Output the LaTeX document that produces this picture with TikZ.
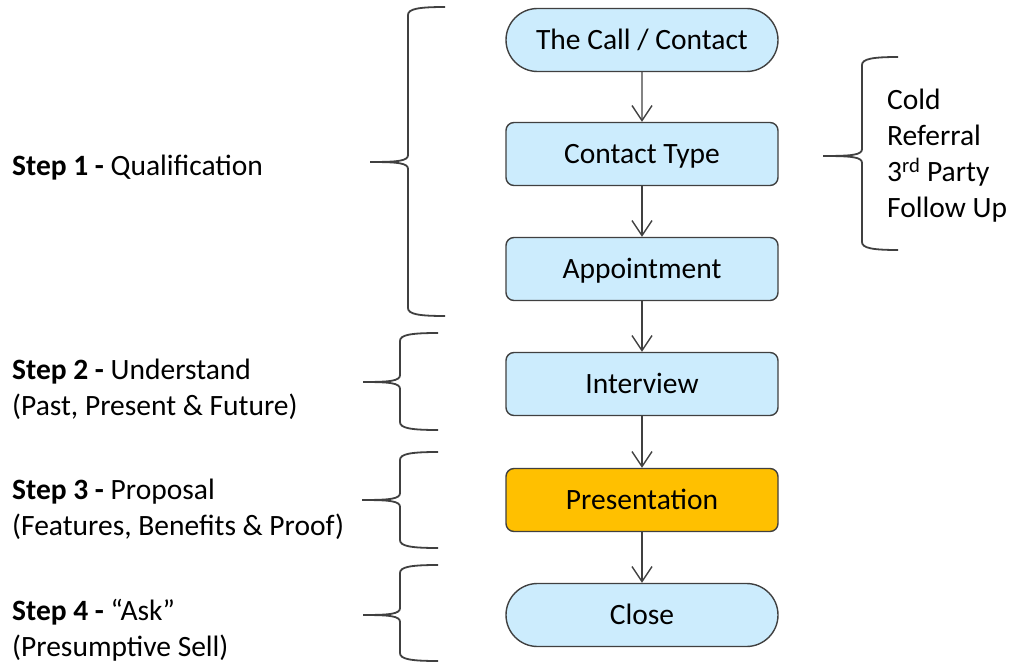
\documentclass[tikz,border=0pt]{standalone}
\usepackage{fontspec}
\setmainfont{Carlito}
\usetikzlibrary{shapes.misc,arrows.meta}
\definecolor{boxblue}{HTML}{CCECFD}
\definecolor{boxgold}{HTML}{FFC000}
\definecolor{edge}{HTML}{404040}
% curly brace: tip x, spine x, end x, top y, middle y, bottom y
\newcommand\stepbrace[6]{%
  \draw[bracestyle] (#3,#4) .. controls ({#2+10},#4) and (#2,{#4+2}) .. (#2,{#4+8})
    -- (#2,{#5-7}) .. controls (#2,{#5-1}) and ({#2-10},#5) .. (#1,#5)
    .. controls ({#2-10},#5) and (#2,{#5+1}) .. (#2,{#5+7})
    -- (#2,{#6-8}) .. controls (#2,{#6-2}) and ({#2+10},#6) .. (#3,#6);}
\tikzset{
  every node/.style={font=\fontsize{29.5}{36}\selectfont},
  flowbox/.style={draw=edge, line width=1.4pt, fill=boxblue, rounded corners=8pt,
    minimum width=272pt, minimum height=63pt, inner sep=0pt,
    text height=19pt, text depth=0pt},
  terminal/.style={flowbox, rounded corners=0pt, rounded rectangle, rounded rectangle arc length=180},
  flow/.style={draw=edge, line width=1.4pt, -{Straight Barb[length=15pt,width=20pt,line width=1.4pt]}},
  bracestyle/.style={draw=edge, line width=1.8pt},
  steplabel/.style={anchor=west, align=left, inner sep=0pt},
}
\begin{document}
\begin{tikzpicture}[x=1pt,y=-1pt]
\useasboundingbox (0,0) rectangle (1009,663);
% flow chart
\node[terminal] (call) at (642,40) {The Call / Contact};
\node[flowbox] (type) at (642,154) {Contact Type};
\node[flowbox] (appt) at (642,269) {Appointment};
\node[flowbox] (interview) at (642,384) {Interview};
\node[flowbox, fill=boxgold] (present) at (642,500) {Presentation};
\node[terminal] (close) at (642,615) {Close};
\draw[flow] (call) -- (type);
\draw[flow] (type) -- (appt);
\draw[flow] (appt) -- (interview);
\draw[flow] (interview) -- (present);
\draw[flow] (present) -- (close);
% contact types
\stepbrace{823}{862}{898}{57}{156}{250}
\node[steplabel] (types) at (887,156) {Cold\\Referral\\3\textsuperscript{rd} Party\\Follow Up};
% steps
\stepbrace{370}{408}{445}{7}{162}{316}
\node[steplabel] (step1) at (12,168) {\textbf{Step 1 -} Qualification};
\stepbrace{363}{400}{438}{333}{382}{430}
\node[steplabel] (step2) at (12,389) {\textbf{Step 2 -} Understand\\(Past, Present \& Future)};
\stepbrace{362}{400}{438}{452}{500}{548}
\node[steplabel] (step3) at (12,509) {\textbf{Step 3 -} Proposal\\(Features, Benefits \& Proof)};
\stepbrace{363}{400}{438}{565}{615}{661}
\node[steplabel] (step4) at (12,630) {\textbf{Step 4 -} “Ask”\\(Presumptive Sell)};
\end{tikzpicture}
\end{document}
